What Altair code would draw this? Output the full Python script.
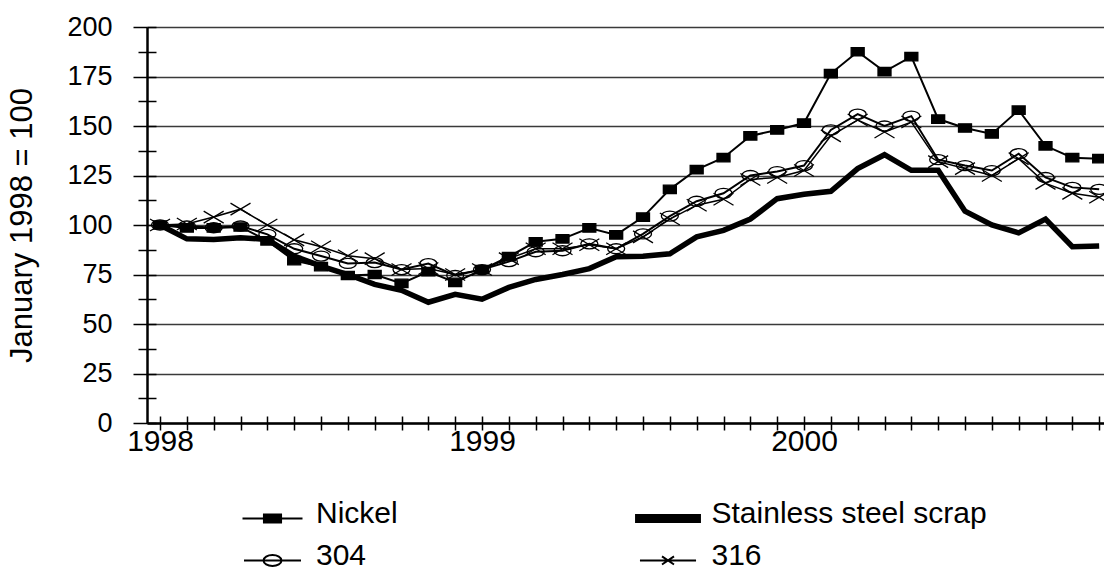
import altair as alt
import pandas as pd

# ---------------- data ----------------
months = list(range(36))                     # Jan 1998 ... Dec 2000
year_labels = ["1998", "1999", "2000"]
year_positions = [0, 12, 24]
series_names = ["Nickel", "Stainless steel scrap", "304", "316"]

nickel = [100, 98.5, 98.5, 99, 92, 82, 79, 74.5, 75, 70.5, 76.5, 71,
          77.5, 84, 91.5, 93, 98.5, 95, 104, 118, 128, 134, 145, 148,
          151.5, 176.5, 187.5, 177.5, 185, 153.5, 149, 146, 158, 140, 134, 133.5]
scrap = [100, 93, 92.7, 93.6, 92.7, 84.3, 79.2, 75, 70, 67, 61, 65,
         62.5, 68.5, 72.5, 75, 78, 84, 84.2, 85.5, 94, 97.3, 103, 113.3,
         115.5, 117, 128.5, 135.5, 127.6, 127.6, 107, 100, 96, 103, 89, 89.4]
s304 = [100, 99.5, 98.6, 99.5, 95.3, 88, 84.3, 80.6, 81, 77.5, 80.5, 74.5,
        77.5, 81.5, 86.5, 87, 90.5, 88, 95.5, 104.5, 112, 116, 125, 127,
        130, 148, 156, 150, 155, 133, 130, 127.5, 136, 124, 119, 118]
s316 = [100, 100.5, 104, 108, 100, 92.5, 89, 84.5, 83, 77.5, 78, 75,
        77.5, 83, 88, 88, 90, 88, 94, 103, 110, 113, 123, 124,
        127.5, 145, 153, 147, 152, 132, 128.5, 125, 133.5, 121, 116, 114]

rows = []
for name, vals in zip(series_names, [nickel, scrap, s304, s316]):
    for m, v in zip(months, vals):
        rows.append({"month": m, "value": v, "series": name})
df = pd.DataFrame(rows)

# ---------------- styling ----------------
FONT = "Liberation Sans"
W, H = 957, 396
y_values = [i * 12.5 for i in range(17)]
x_scale = alt.Scale(domain=[-0.485, 35.18], nice=False, zero=False)
y_scale = alt.Scale(domain=[0, 200], nice=False, zero=False)

label_expr = "".join(f"datum.value == {p} ? '{l}' : " for p, l in zip(year_positions, year_labels)) + "''"

x_main = alt.Axis(values=months, labelExpr=label_expr, labelOverlap=False, labelFlush=False,
                  tickSize=7, tickColor="black", tickWidth=1.5,
                  domainColor="black", domainWidth=2.5, grid=False,
                  labelFont=FONT, labelFontSize=30, labelColor="black", labelPadding=-4,
                  title=None)
y_main = alt.Axis(values=y_values,
                  labelExpr="datum.value % 25 == 0 ? datum.value : ''",
                  labelOverlap=False,
                  tickSize={"condition": {"test": "datum.value % 25 == 0", "value": 14}, "value": 9},
                  tickColor="black", tickWidth=1.5,
                  domainColor="black", domainWidth=2.5,
                  grid=True, gridColor="#3a3a3a", gridWidth=1.3,
                  gridOpacity={"condition": {"test": "datum.value % 25 == 0", "value": 1}, "value": 0},
                  labelFont=FONT, labelFontSize=27, labelColor="black", labelPadding=21,
                  title="January 1998 = 100", titleFont=FONT, titleFontSize=31,
                  titleFontWeight="normal", titleColor="black", titlePadding=28)

# secondary axes draw the inner half of the crossing tick marks
x_inner = alt.Axis(orient="top", offset=-H, values=months, tickSize=7, tickColor="black",
                   tickWidth=1.5, labels=False, domain=False, grid=False, title=None)
y_inner = alt.Axis(orient="right", offset=-W, values=y_values, tickSize=9, tickColor="black",
                   tickWidth=1.5, labels=False, domain=False, grid=False, title=None)

base = alt.Chart(df)

line_widths = {"Nickel": 2, "Stainless steel scrap": 5.5, "304": 2, "316": 1.5}
line_layers = []
for i, name in enumerate(series_names):
    line_layers.append(
        base.transform_filter(alt.datum.series == name).mark_line(
            color="black", strokeWidth=line_widths[name], strokeJoin="miter"
        ).encode(
            x=alt.X("month:Q", scale=x_scale, axis=x_main if i == 0 else None),
            y=alt.Y("value:Q", scale=y_scale, axis=y_main if i == 0 else None),
        )
    )

marker_paths = {
    "Nickel": "M-0.65,-0.42H0.65V0.42H-0.65Z",
    "304": "M-0.85,0A0.85,0.5 0 1,1 0.85,0A0.85,0.5 0 1,1 -0.85,0Z",
    "316": "M-1,-0.6L1,0.6M-1,0.6L1,-0.6",
}
marker_fill = {"Nickel": "black", "304": "transparent", "316": "transparent"}

marker_layers = []
for name in ["304", "316", "Nickel"]:
    marker_layers.append(
        base.transform_filter(alt.datum.series == name).mark_point(
            shape=marker_paths[name], size=400, fill=marker_fill[name], stroke="black",
            strokeWidth=1.3, opacity=1, filled=False
        ).encode(
            x=alt.X("month:Q", scale=x_scale, axis=None),
            y=alt.Y("value:Q", scale=y_scale, axis=None),
        )
    )

legend_paths = [
    "M-2,0.33H2M-0.57,0.06H0.57V0.6H-0.57Z",
    "M-2.13,0.1H2.13V0.56H-2.13Z",
    "M-1.9,0.33H1.9M-0.6,0.33A0.6,0.37 0 1,1 0.6,0.33A0.6,0.37 0 1,1 -0.6,0.33Z",
    "M-1.87,0.33H1.87M-0.4,0.06L0.4,0.6M-0.4,0.6L0.4,0.06",
]
legend_fills = ["black", "black", "white", "transparent"]
legend_strokes = ["black", "black", "black", "black"]

legend_def = alt.Legend(
    title=None, orient="bottom", columns=2, offset=-68.5, padding=109.5,
    columnPadding=233.5, rowPadding=11, symbolSize=900, symbolStrokeWidth=2,
    symbolOpacity=1, labelOffset=27.5,
    labelFont=FONT, labelFontSize=30, labelColor="black", labelLimit=0,
)

legend_layer = base.mark_point(opacity=0, stroke="black", size=10).encode(
    x=alt.X("month:Q", scale=x_scale, axis=x_inner),
    y=alt.Y("value:Q", scale=y_scale, axis=y_inner),
    shape=alt.Shape("series:N", scale=alt.Scale(domain=series_names, range=legend_paths),
                    legend=legend_def),
    fill=alt.Fill("series:N", scale=alt.Scale(domain=series_names, range=legend_fills),
                  legend=legend_def),
    stroke=alt.Stroke("series:N", scale=alt.Scale(domain=series_names, range=legend_strokes),
                      legend=legend_def),
)

chart = alt.layer(*line_layers, *marker_layers, legend_layer).resolve_axis(
    x="independent", y="independent"
).properties(
    width=W, height=H,
    autosize=alt.AutoSizeParams(type="none"),
    padding={"left": 147, "top": 27, "right": 0, "bottom": 150},
    background="white",
).configure_view(stroke=None)

chart.save("out.html", embed_options={"renderer": "svg", "actions": False})
